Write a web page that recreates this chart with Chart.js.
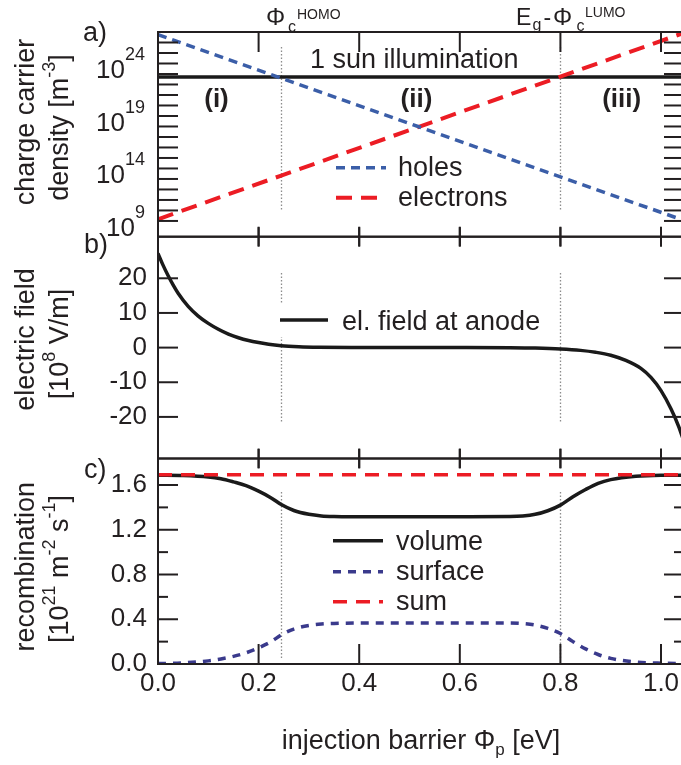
<!DOCTYPE html>
<html>
<head>
<meta charset="utf-8">
<title>Injection barrier</title>
<script src="https://cdn.jsdelivr.net/npm/chart.js@4.4.1/dist/chart.umd.min.js"></script>
<style>
html,body{margin:0;padding:0;overflow:hidden;background:#fff;}
#wrap{position:relative;width:681px;height:765px;overflow:hidden;background:#fff;}
canvas{position:absolute;left:0;top:0;}
</style>
</head>
<body>
<div id="wrap">
<canvas id="panelA" width="700" height="765"></canvas>
<canvas id="panelB" width="700" height="765"></canvas>
<canvas id="panelC" width="700" height="765"></canvas>
</div>
<script>
// ---------------- data ----------------
const xTickValues = [0, 0.2, 0.4, 0.6, 0.8, 1.0];
const xRange = [0, 1.0457];
const barrierMarks = [0.245, 0.8];

// a) charge carrier density [m^-3]
const densityX = [0, 0.245, 0.52, 0.8, 1.046];
const holes = [5.6e26, 4.0e22, 8.9e17, 1.6e13, 1.1e9];
const electrons = [1.45e9, 2.1e13, 9.8e17, 5.6e22, 8.5e26];
const sunX = [0, 1.046];
const sunDensity = [5.3e22, 5.3e22];
const densityLabelExps = [9, 14, 19, 24];
const densityTickExps = [9, 10, 11, 12, 13, 14, 15, 16, 17, 18, 19, 20, 21, 22, 23, 24, 25, 26];
const densityRange = [3.16e7, 1e27];

// b) electric field at anode [1e8 V/m]
const fieldX = [0, 0.01, 0.02, 0.03, 0.04, 0.06, 0.08, 0.1, 0.12, 0.14, 0.16, 0.18, 0.2, 0.22, 0.245, 0.28, 0.32, 0.4, 0.5, 0.6, 0.7, 0.75, 0.8, 0.84, 0.87, 0.9, 0.93, 0.96, 0.98, 1.0, 1.02, 1.035, 1.046];
const fieldAtAnode = [27.2, 23.8, 20.8, 18.1, 15.7, 11.9, 9.1, 7.0, 5.3, 3.9, 2.85, 2.05, 1.45, 0.95, 0.55, 0.27, 0.12, 0.03, 0, 0, -0.05, -0.15, -0.4, -0.8, -1.35, -2.2, -3.7, -6.0, -8.6, -12.4, -17.7, -22.7, -27.3];
const fieldTicks = [-20, -10, 0, 10, 20];
const fieldRange = [-32, 32];

// c) recombination [1e21 m^-2 s^-1]
const recX = [0, 0.05, 0.1, 0.125, 0.15, 0.175, 0.2, 0.225, 0.245, 0.27, 0.3, 0.325, 0.35, 0.4, 0.5, 0.6, 0.7, 0.725, 0.75, 0.775, 0.8, 0.825, 0.85, 0.875, 0.9, 0.95, 1.0, 1.046];
const volumeRec = [1.688, 1.685, 1.672, 1.656, 1.628, 1.595, 1.545, 1.485, 1.425, 1.372, 1.338, 1.324, 1.319, 1.317, 1.316, 1.316, 1.318, 1.323, 1.338, 1.37, 1.42, 1.495, 1.56, 1.615, 1.648, 1.678, 1.687, 1.688];
const surfaceRec = [0.004, 0.01, 0.028, 0.045, 0.068, 0.1, 0.145, 0.2, 0.26, 0.312, 0.345, 0.358, 0.363, 0.366, 0.367, 0.367, 0.366, 0.361, 0.348, 0.318, 0.272, 0.2, 0.135, 0.085, 0.05, 0.018, 0.007, 0.004];
const sumX = [0, 0.52, 1.046];
const sumRec = [1.692, 1.692, 1.692];
const recTicks = [0, 0.4, 0.8, 1.2, 1.6];
const recMinorTicks = [0.2, 0.6, 1.0, 1.4];
const recRange = [0, 1.837];

// ---------------- helpers ----------------
const FONT = "'Liberation Sans', Arial, Helvetica, sans-serif";
const INK = '#231f20';
const pts = (xs, ys) => xs.map((x, i) => ({x: x, y: ys[i]}));

function seg(ctx, x1, y1, x2, y2) { ctx.beginPath(); ctx.moveTo(x1, y1); ctx.lineTo(x2, y2); ctx.stroke(); }

function richText(ctx, x, y, parts, align, rotate) {
  ctx.save();
  ctx.translate(x, y);
  if (rotate) ctx.rotate(rotate);
  ctx.fillStyle = INK; ctx.textBaseline = 'alphabetic'; ctx.textAlign = 'left';
  const fontOf = p => (p[3] || 'normal') + ' ' + p[1] + 'px ' + FONT;
  const ws = parts.map(p => { ctx.font = fontOf(p); return ctx.measureText(p[0]).width; });
  const total = ws.reduce((a, b) => a + b, 0);
  let cx = align === 'center' ? -total / 2 : (align === 'right' ? -total : 0);
  parts.forEach((p, i) => { ctx.font = fontOf(p); ctx.fillText(p[0], cx, p[2] || 0); cx += ws[i]; });
  ctx.restore();
}
function placed(ctx, items) { // [text, size, x, baseline, weight]
  ctx.save(); ctx.fillStyle = INK; ctx.textBaseline = 'alphabetic'; ctx.textAlign = 'left';
  items.forEach(it => { ctx.font = (it[4] || 'normal') + ' ' + it[1] + 'px ' + FONT; ctx.fillText(it[0], it[2], it[3]); });
  ctx.restore();
}
function centered(ctx, text, size, x, base, weight) {
  ctx.save(); ctx.fillStyle = INK; ctx.textBaseline = 'alphabetic'; ctx.textAlign = 'center';
  ctx.font = (weight || 'normal') + ' ' + size + 'px ' + FONT; ctx.fillText(text, x, base); ctx.restore();
}

function drawFrame(chart, spec) {
  const {ctx, chartArea: a, scales: {x, y}} = chart;
  ctx.save();
  ctx.strokeStyle = INK; ctx.lineWidth = 2; ctx.setLineDash([]);
  ctx.strokeRect(a.left, a.top, a.right - a.left, a.bottom - a.top);
  xTickValues.forEach(v => {
    if (v <= xRange[0]) return;
    const px = x.getPixelForValue(v);
    if (spec.top === 'in') seg(ctx, px, a.top, px, a.top + 20); else seg(ctx, px, a.top - 9.5, px, a.top + 9.5);
    if (spec.bottom === 'in') seg(ctx, px, a.bottom, px, a.bottom - 20); else seg(ctx, px, a.bottom - 10, px, a.bottom + 10);
  });
  spec.yTicks.forEach(t => {
    const py = y.getPixelForValue(t[0]);
    seg(ctx, a.left, py, a.left + t[1], py);
    seg(ctx, a.right, py, a.right - t[1], py);
  });
  ctx.restore();
}
function drawMarks(chart, y0, y1) {
  const {ctx, scales: {x}} = chart;
  ctx.save(); ctx.strokeStyle = '#8c8c8c'; ctx.lineWidth = 1.3; ctx.setLineDash([1.5, 2]);
  barrierMarks.forEach(v => { const px = Math.round(x.getPixelForValue(v)) + 0.5; seg(ctx, px, y0, px, y1); });
  ctx.restore();
}
function drawLegend(chart, items) { // [datasetIndex, x1, x2, lineY, textX, textBaseline]
  const {ctx} = chart;
  items.forEach(it => {
    const ds = chart.data.datasets[it[0]];
    ctx.save(); ctx.strokeStyle = ds.borderColor; ctx.lineWidth = ds.borderWidth; ctx.setLineDash(ds.borderDash || []);
    seg(ctx, it[1], it[3], it[2], it[3]); ctx.restore();
    placed(ctx, [[ds.label, 27, it[4], it[5]]]);
  });
}

const hiddenGrid = {display: false, drawTicks: false};
function xScale(showLabels) {
  const s = {type: 'linear', min: xRange[0], max: xRange[1], grid: hiddenGrid, border: {display: false}};
  if (showLabels) {
    s.afterBuildTicks = sc => { sc.ticks = xTickValues.map(v => ({value: v})); };
    s.ticks = {display: true, autoSkip: false, maxRotation: 0, padding: 4, color: INK,
      font: {family: FONT, size: 26}, callback: v => Number(v).toFixed(1)};
    s.afterFit = sc => { sc.height = 101; };
  } else {
    s.ticks = {display: false};
    s.afterFit = sc => { sc.height = 0; };
  }
  return s;
}
function baseOptions(padding, scales) {
  return {
    responsive: false, animation: false, events: [],
    layout: {padding: padding},
    plugins: {legend: {display: false}, tooltip: {enabled: false}},
    elements: {point: {radius: 0}},
    scales: scales
  };
}

// ---------------- panel a ----------------
new Chart(document.getElementById('panelA'), {
  type: 'line',
  data: {datasets: [
    {label: 'holes', data: pts(densityX, holes), borderColor: '#3b5ea8', borderWidth: 3.5, borderDash: [9, 6], tension: 0},
    {label: 'electrons', data: pts(densityX, electrons), borderColor: '#ec1c24', borderWidth: 4, borderDash: [16, 9], tension: 0},
    {label: '1 sun illumination', data: pts(sunX, sunDensity), borderColor: '#1a1a1a', borderWidth: 3.5, tension: 0}
  ]},
  options: baseOptions({top: 32, bottom: 765 - 236.7, left: 0, right: 16}, {
    x: xScale(false),
    y: {type: 'logarithmic', min: densityRange[0], max: densityRange[1], grid: hiddenGrid, border: {display: false},
        ticks: {display: false}, afterFit: sc => { sc.width = 158; }}
  }),
  plugins: [{
    id: 'panelAExtras',
    beforeDatasetsDraw(chart) { drawMarks(chart, 47, 210); },
    afterDatasetsDraw(chart) {
      drawFrame(chart, {top: 'in', bottom: 'cross', yTicks: densityTickExps.map(e => [Math.pow(10, e), 20])});
    },
    afterDraw(chart) {
      const {ctx, scales: {y}} = chart;
      densityLabelExps.forEach(e => {
        const py = y.getPixelForValue(Math.pow(10, e));
        richText(ctx, 145, py, [['10', 26, 15], [String(e), 18, -3.3]], 'right');
      });
      // y title
      richText(ctx, 33.5, 122, [['charge carrier', 27, 0]], 'center', -Math.PI / 2);
      richText(ctx, 68, 127.5, [['density [m', 27, 0], ['-3', 18, -13], [']', 27, 0]], 'center', -Math.PI / 2);
      placed(ctx, [['a)', 27, 83, 41]]);
      // top labels
      placed(ctx, [['Φ', 24, 266, 25], ['c', 16, 288, 31.5], ['HOMO', 14, 297, 18.5]]);
      placed(ctx, [['E', 23, 516, 24.5], ['g', 16, 532.5, 29.5], ['-', 23, 543.5, 24.5], ['Φ', 24, 553, 24.5], ['c', 16, 576.5, 30.7], ['LUMO', 14, 585, 17]]);
      placed(ctx, [['1 sun illumination', 27, 310, 68]]);
      centered(ctx, '(i)', 26, 216.5, 107, 'bold');
      centered(ctx, '(ii)', 26, 416.5, 107, 'bold');
      centered(ctx, '(iii)', 26, 621.7, 107, 'bold');
      drawLegend(chart, [[0, 336, 386, 167.7, 398, 176], [1, 336, 386, 197.7, 398, 206]]);
    }
  }]
});

// ---------------- panel b ----------------
new Chart(document.getElementById('panelB'), {
  type: 'line',
  data: {datasets: [
    {label: 'el. field at anode', data: pts(fieldX, fieldAtAnode), borderColor: '#1a1a1a', borderWidth: 3.5, cubicInterpolationMode: 'monotone'}
  ]},
  options: baseOptions({top: 236.7, bottom: 765 - 458.5, left: 0, right: 16}, {
    x: xScale(false),
    y: {type: 'linear', min: fieldRange[0], max: fieldRange[1], grid: hiddenGrid, border: {display: false},
        afterBuildTicks: sc => { sc.ticks = fieldTicks.map(v => ({value: v})); },
        ticks: {padding: 11, color: INK, font: {family: FONT, size: 26}, callback: v => String(v)},
        afterFit: sc => { sc.width = 158; }}
  }),
  plugins: [{
    id: 'panelBExtras',
    beforeDatasetsDraw(chart) { drawMarks(chart, 273, 423); },
    afterDatasetsDraw(chart) {
      drawFrame(chart, {top: 'cross', bottom: 'cross', yTicks: fieldTicks.map(v => [v, 20])});
    },
    afterDraw(chart) {
      const {ctx} = chart;
      ctx.save(); ctx.fillStyle = '#fff'; ctx.fillRect(276, 303, 270, 34); ctx.restore();
      drawLegend(chart, [[0, 280, 328, 320, 342, 329.5]]);
      richText(ctx, 33.5, 339.5, [['electric field', 27, 0]], 'center', -Math.PI / 2);
      richText(ctx, 68, 344, [['[10', 27, 0], ['8', 18, -13], [' V/m]', 27, 0]], 'center', -Math.PI / 2);
      placed(ctx, [['b)', 27, 84, 253]]);
    }
  }]
});

// ---------------- panel c ----------------
new Chart(document.getElementById('panelC'), {
  type: 'line',
  data: {datasets: [
    {label: 'sum', data: pts(sumX, sumRec), borderColor: '#ec1c24', borderWidth: 3.5, borderDash: [14, 9], tension: 0},
    {label: 'volume', data: pts(recX, volumeRec), borderColor: '#1a1a1a', borderWidth: 3.5, cubicInterpolationMode: 'monotone'},
    {label: 'surface', data: pts(recX, surfaceRec), borderColor: '#3a3a8c', borderWidth: 3.5, borderDash: [8, 7], cubicInterpolationMode: 'monotone'}
  ]},
  options: baseOptions({top: 458.5, bottom: 0, left: 0, right: 16}, {
    x: xScale(true),
    y: {type: 'linear', min: recRange[0], max: recRange[1], grid: hiddenGrid, border: {display: false},
        afterBuildTicks: sc => { sc.ticks = recTicks.map(v => ({value: v})); },
        ticks: {padding: 11, color: INK, font: {family: FONT, size: 26}, callback: v => Number(v).toFixed(1)},
        afterFit: sc => { sc.width = 158; }}
  }),
  plugins: [{
    id: 'panelCExtras',
    beforeDatasetsDraw(chart) { drawMarks(chart, 492, 660); },
    afterDatasetsDraw(chart) {
      drawFrame(chart, {top: 'cross', bottom: 'in',
        yTicks: recTicks.map(v => [v, 20]).concat(recMinorTicks.map(v => [v, 10]))});
    },
    afterDraw(chart) {
      const {ctx} = chart;
      drawLegend(chart, [[1, 333, 383, 540.7, 396, 550], [2, 333, 383, 571.7, 396, 580], [0, 333, 383, 601.7, 396, 610]]);
      richText(ctx, 33.5, 566.7, [['recombination', 27, 0]], 'center', -Math.PI / 2);
      richText(ctx, 68, 569, [['[10', 27, 0], ['21', 18, -13], [' m', 27, 0], ['-2', 18, -13], [' s', 27, 0], ['-1', 18, -13], [']', 27, 0]], 'center', -Math.PI / 2);
      placed(ctx, [['c)', 27, 84, 478]]);
      richText(ctx, 421, 749, [['injection barrier Φ', 27, 0], ['p', 17, 6], [' [eV]', 27, 0]], 'center');
    }
  }]
});
</script>
</body>
</html>
